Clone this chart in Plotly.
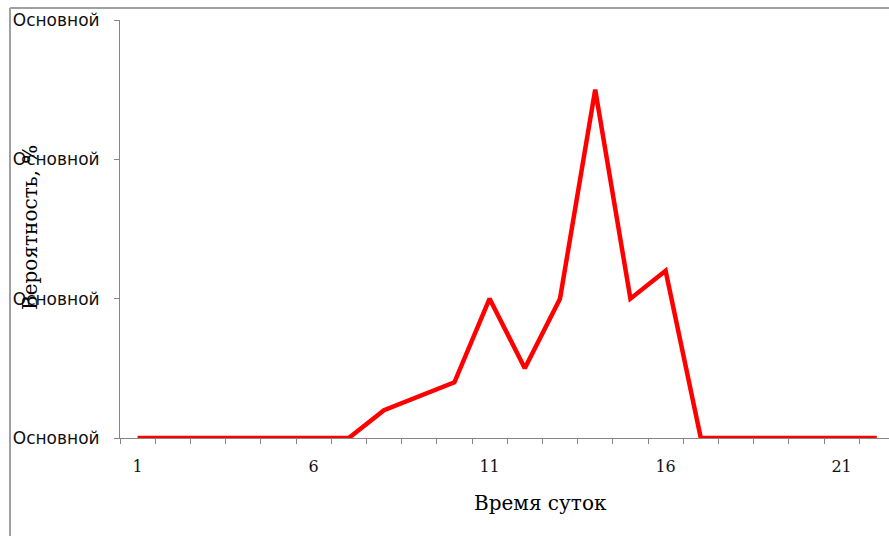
import plotly.graph_objects as go

hours = list(range(1, 23))
probability = [0, 0, 0, 0, 0, 0, 0, 2, 3, 4, 10, 5, 10, 25, 10, 12, 0, 0, 0, 0, 0, 0]
x_tick_vals = [1, 6, 11, 16, 21]
x_tick_text = ["1", "6", "11", "16", "21"]
y_tick_vals = [0, 10, 20, 30]
y_tick_text = ["Основной", "Основной", "Основной", "Основной"]
x_title = "Время суток"
y_title = "Вероятность, %"

W, H = 889, 536
L, R, T, B = 120, 0, 20, 98
pw, ph = W - L - R, H - T - B

def px(xp):
    return (xp - L) / pw

def py(yp):
    return (H - B - yp) / ph

fig = go.Figure()
fig.add_trace(go.Scatter(
    x=hours, y=probability, mode="lines",
    line=dict(color="#FF0000", width=4.5), showlegend=False, hoverinfo="skip",
))

axis_color = "#868686"
fig.update_layout(
    width=W, height=H,
    margin=dict(l=L, r=R, t=T, b=B, pad=0),
    paper_bgcolor="white", plot_bgcolor="white",
    xaxis=dict(
        range=[0.5, 0.5 + pw / 35.2],
        tickmode="array", tickvals=x_tick_vals, ticktext=x_tick_text,
        ticks="outside", ticklen=0, tickcolor=axis_color,
        minor=dict(ticks="outside", ticklen=5, tickmode="array",
                   tickvals=[h + 0.5 for h in range(0, 23)],
                   tickcolor=axis_color, showgrid=False),
        showline=True, linecolor=axis_color, linewidth=1,
        showgrid=False, zeroline=False,
        tickfont=dict(family="DejaVu Serif", size=16, color="#111111"),
        ticklabelstandoff=14,
    ),
    yaxis=dict(
        range=[0, 30],
        tickmode="array", tickvals=y_tick_vals, ticktext=y_tick_text,
        ticks="outside", ticklen=5, tickcolor=axis_color,
        showline=True, linecolor=axis_color, linewidth=1,
        showgrid=False, zeroline=False,
        tickfont=dict(family="DejaVu Sans", size=17, color="#111111"),
        ticklabelstandoff=11,
    ),
    annotations=[
        dict(text=x_title, xref="paper", yref="paper", x=px(540), y=py(503),
             xanchor="center", yanchor="middle", showarrow=False,
             font=dict(family="DejaVu Serif", size=20, color="#000000")),
        dict(text=y_title, xref="paper", yref="paper", x=px(30), y=py(228),
             xanchor="center", yanchor="middle", showarrow=False, textangle=-90,
             font=dict(family="DejaVu Serif", size=20, color="#000000")),
    ],
    shapes=[
        dict(type="line", xref="paper", yref="paper", x0=px(10), x1=px(900), y0=py(8), y1=py(8),
             line=dict(color="#A0A0A0", width=2), layer="below"),
        dict(type="line", xref="paper", yref="paper", x0=px(10), x1=px(10), y0=py(8), y1=py(545),
             line=dict(color="#A0A0A0", width=2), layer="below"),
    ],
)

fig.write_html("out.html")
